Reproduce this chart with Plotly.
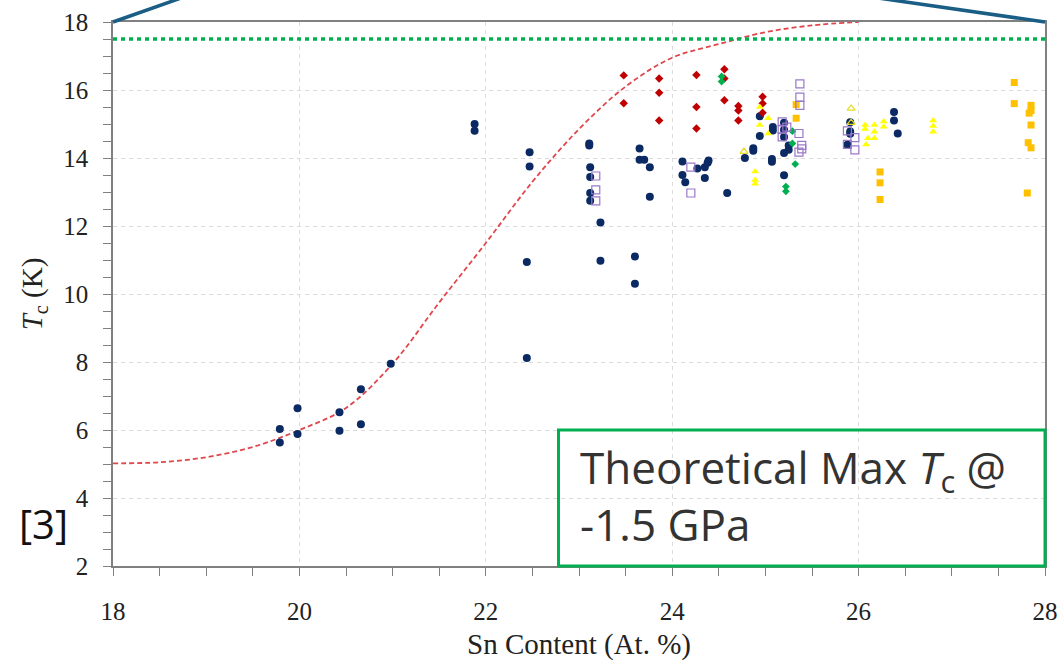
import plotly.graph_objects as go

# ---------------- data ----------------
curve_x = [18.0, 18.5, 19.0, 19.5, 20.0, 20.5, 21.0, 21.5, 22.0, 22.5, 23.0, 23.5, 24.0, 24.5, 25.0, 25.5, 26.0]
curve_y = [5.02, 5.05, 5.2, 5.5, 6.0, 6.65, 7.95, 9.75, 11.5, 13.3, 14.85, 16.1, 16.95, 17.35, 17.7, 17.9, 18.0]

navy_x = [19.79, 19.79, 19.98, 19.98, 20.43, 20.43, 20.66, 20.66, 20.98,
          21.88, 21.88, 22.47, 22.47, 22.44, 22.44,
          23.11, 23.11, 23.12, 23.12, 23.12, 23.12, 23.23, 23.23,
          23.65, 23.65, 23.70, 23.76, 23.76, 23.60, 23.60,
          24.11, 24.11, 24.14, 24.27, 24.35, 24.38, 24.39, 24.35, 24.59,
          24.78, 24.87, 24.87, 24.94, 24.94, 25.08, 25.08, 25.07, 25.07,
          25.20, 25.20, 25.20, 25.20, 25.20, 25.25, 25.25,
          25.91, 25.91, 25.91, 25.88, 26.38, 26.38, 26.42]
navy_y = [6.03, 5.63, 6.64, 5.88, 6.52, 5.98, 7.20, 6.17, 7.95,
          15.0, 14.8, 14.17, 13.75, 10.94, 8.12,
          14.43, 14.37, 13.73, 13.44, 12.97, 12.74, 12.1, 10.98,
          14.28, 13.95, 13.95, 13.73, 12.86, 11.1, 10.3,
          13.9, 13.5, 13.29, 13.69, 13.73, 13.86, 13.93, 13.41, 12.97,
          14.0, 14.29, 14.21, 15.23, 14.65, 14.91, 14.81, 13.97, 13.89,
          15.04, 14.83, 14.62, 14.15, 13.49, 14.37, 14.24,
          15.05, 14.78, 14.71, 14.39, 15.35, 15.1, 14.72]

red_x = [23.48, 23.48, 23.86, 23.86, 23.86, 24.26, 24.26, 24.26, 24.56, 24.56, 24.56,
         24.71, 24.71, 24.71, 24.97, 24.97, 24.97]
red_y = [16.43, 15.61, 16.34, 15.92, 15.1, 16.44, 15.5, 14.87, 16.61, 16.34, 15.7,
         15.53, 15.4, 15.1, 15.8, 15.6, 15.33]

green_x = [24.53, 24.53, 25.29, 25.29, 25.32, 25.22, 25.22]
green_y = [16.4, 16.25, 14.79, 14.43, 13.82, 13.16, 13.02]

yellow_x = [24.94, 25.03, 24.94, 25.03, 24.89, 24.89, 24.89,
            26.07, 26.07, 26.17, 26.17, 26.27, 26.27, 26.10, 26.17, 26.08,
            26.80, 26.80, 26.80]
yellow_y = [15.5, 15.17, 14.97, 14.72, 13.6, 13.35, 13.24,
            14.97, 14.85, 14.97, 14.77, 15.07, 14.92, 14.58, 14.58, 14.4,
            15.1, 14.94, 14.77]

yellow_open_x = [24.77, 25.92, 25.92]
yellow_open_y = [14.19, 15.46, 15.04]

orange_x = [25.33, 25.33, 26.23, 26.23, 26.23, 27.67, 27.67, 27.85, 27.85, 27.83, 27.85, 27.82, 27.85, 27.81]
orange_y = [15.57, 15.17, 13.59, 13.27, 12.78, 16.22, 15.6, 15.55, 15.4, 15.32, 14.97, 14.45, 14.3, 12.97]

purple_x = [23.18, 23.18, 23.18, 24.20, 24.20,
            25.18, 25.18, 25.18, 25.23, 25.37, 25.37, 25.37, 25.36, 25.39, 25.39, 25.36,
            25.88, 25.88, 25.96, 25.96]
purple_y = [13.47, 13.06, 12.74, 13.73, 12.97,
            15.06, 14.84, 14.62, 14.91, 16.18, 15.79, 15.55, 14.72, 14.37, 14.27, 14.17,
            14.8, 14.4, 14.6, 14.24]

theory_max = 17.5
x_ticks = [18, 20, 22, 24, 26, 28]
y_ticks = [2, 4, 6, 8, 10, 12, 14, 16, 18]

# ---------------- figure ----------------
fig = go.Figure()

fig.add_trace(go.Scatter(x=curve_x, y=curve_y, mode="lines",
                         line=dict(color="#E0474C", width=1.8, dash="5px,3px", shape="spline", smoothing=1.0),
                         cliponaxis=True))

fig.add_trace(go.Scatter(x=navy_x, y=navy_y, mode="markers",
                         marker=dict(symbol="circle", size=8, color="#0B2A63", line=dict(width=0))))
fig.add_trace(go.Scatter(x=red_x, y=red_y, mode="markers",
                         marker=dict(symbol="diamond", size=6.5, color="#C00000", line=dict(width=0))))
fig.add_trace(go.Scatter(x=green_x, y=green_y, mode="markers",
                         marker=dict(symbol="diamond", size=6, color="#00B050", line=dict(width=0))))
fig.add_trace(go.Scatter(x=yellow_x, y=yellow_y, mode="markers",
                         marker=dict(symbol="triangle-up", size=7, color="#FFFF00", line=dict(width=0))))
fig.add_trace(go.Scatter(x=yellow_open_x, y=yellow_open_y, mode="markers",
                         marker=dict(symbol="triangle-up-open", size=7, color="#E8DC20", line=dict(width=1.2))))
fig.add_trace(go.Scatter(x=orange_x, y=orange_y, mode="markers",
                         marker=dict(symbol="square", size=7, color="#FFC000", line=dict(width=0))))
fig.add_trace(go.Scatter(x=purple_x, y=purple_y, mode="markers",
                         marker=dict(symbol="square-open", size=8, color="#9A78C9", line=dict(width=1.2))))

# green dotted theoretical max line
fig.add_shape(type="line", xref="x", yref="y", x0=18, x1=28, y0=theory_max, y1=theory_max,
              line=dict(color="#00B050", width=3.5, dash="4px,4px"))

# blue zoom lines out of the top corners
fig.add_shape(type="line", xref="paper", yref="paper", x0=0, y0=1, x1=0.1357, y1=1.082,
              line=dict(color="#1A5E86", width=3.5))
fig.add_shape(type="line", xref="paper", yref="paper", x0=1, y0=1, x1=0.667, y1=1.082,
              line=dict(color="#1A5E86", width=3.5))

# green text box
fig.add_shape(type="rect", xref="paper", yref="paper", x0=0.478, x1=1.0, y0=0.0, y1=0.25,
              line=dict(color="#00B050", width=3), fillcolor="rgba(0,0,0,0)")
fig.add_annotation(xref="paper", yref="paper", x=0.499, y=0.13, xanchor="left", yanchor="middle",
                   text="Theoretical Max <i>T</i><sub>c</sub> @<br>-1.5 GPa", showarrow=False, align="left",
                   font=dict(family="Open Sans", size=44, color="#333333"))

fig.add_annotation(xref="paper", yref="paper", x=-0.075, y=0.078, xanchor="center", yanchor="middle",
                   text="[3]", showarrow=False, font=dict(family="Open Sans", size=40, color="#111111"))

axis_common = dict(showline=True, linecolor="#808080", linewidth=1.5, mirror=True,
                   ticks="outside", ticklen=8, tickwidth=1.2, tickcolor="#808080",
                   showgrid=True, gridcolor="#DCDCDC", gridwidth=1, griddash="4px,4px",
                   zeroline=False, automargin=False,
                   tickfont=dict(family="Liberation Serif", size=25, color="#222222"))

fig.update_xaxes(range=[18, 28], tickvals=x_ticks, ticktext=[str(v) for v in x_ticks],
                 minor=dict(dtick=0.5, tick0=18, ticks="outside", ticklen=8, tickcolor="#808080", showgrid=False),
                 title=dict(text="Sn Content (At. %)", font=dict(family="Liberation Serif", size=29, color="#222222"),
                            standoff=12),
                 ticklabelstandoff=14, **axis_common)
fig.update_yaxes(range=[2, 18], tickvals=y_ticks, ticktext=[str(v) for v in y_ticks],
                 minor=dict(dtick=0.5, tick0=2, ticks="outside", ticklen=8, tickcolor="#808080", showgrid=False),
                 title=dict(text="<i>T</i><sub>c</sub> (K)", font=dict(family="Liberation Serif", size=29, color="#222222"),
                            standoff=12),
                 ticklabelstandoff=10, **axis_common)

fig.update_layout(width=1063, height=661, margin=dict(l=113, r=18, t=22, b=95),
                  paper_bgcolor="white", plot_bgcolor="white", showlegend=False,
                  hovermode=False)

fig.write_html("out.html")
